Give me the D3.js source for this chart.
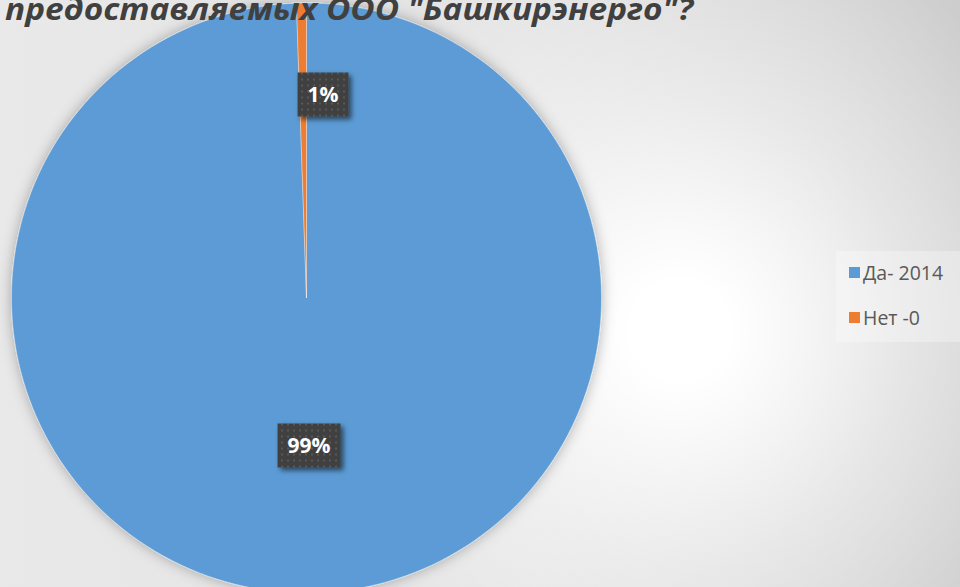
<!DOCTYPE html>
<html>
<head>
<meta charset="utf-8">
<script src="https://cdn.jsdelivr.net/npm/d3@7"></script>
<style>
  html, body { margin: 0; padding: 0; overflow: hidden; }
</style>
</head>
<body>
<div id="chart"></div>
<script>
const WIDTH = 960;
const HEIGHT = 587;

// data
const categories = ["Да- 2014", "Нет -0"];
const values = [2014, 11];
const colors = ["#5B9BD5", "#ED7D31"];
const titleText = "предоставляемых ООО \"Башкирэнерго\"?";

// layout
const cx = 306.5, cy = 298, radius = 295;
const labelRadius = [0.5, 0.69];
const labelShift = [0, 20];

let svg = d3.select("#chart")
    .append("svg")
    .attr("width", WIDTH)
    .attr("height", HEIGHT);

let defs = svg.append("defs");

let base = defs.append("linearGradient")
    .attr("id", "base")
    .attr("x1", "0").attr("y1", "0")
    .attr("x2", "1").attr("y2", "0");
base.append("stop").attr("offset", "0").attr("stop-color", "#e9e9e9");
base.append("stop").attr("offset", "0.55").attr("stop-color", "#e2e2e2");
base.append("stop").attr("offset", "1").attr("stop-color", "#cdcdcd");

let glow = defs.append("radialGradient")
    .attr("id", "glow")
    .attr("gradientUnits", "userSpaceOnUse")
    .attr("cx", 680).attr("cy", 330).attr("r", 420);
glow.append("stop").attr("offset", "0").attr("stop-color", "#fff").attr("stop-opacity", 1);
glow.append("stop").attr("offset", "0.12").attr("stop-color", "#fff").attr("stop-opacity", 1);
glow.append("stop").attr("offset", "0.55").attr("stop-color", "#fff").attr("stop-opacity", 0.45);
glow.append("stop").attr("offset", "1").attr("stop-color", "#fff").attr("stop-opacity", 0);

let pieShadow = defs.append("filter")
    .attr("id", "pieShadow")
    .attr("x", "-10%").attr("y", "-10%")
    .attr("width", "120%").attr("height", "120%");
pieShadow.append("feDropShadow")
    .attr("dx", 0).attr("dy", 0)
    .attr("stdDeviation", 7)
    .attr("flood-color", "#000")
    .attr("flood-opacity", 0.3);

let boxShadow = defs.append("filter")
    .attr("id", "boxShadow")
    .attr("x", "-20%").attr("y", "-20%")
    .attr("width", "150%").attr("height", "150%");
boxShadow.append("feDropShadow")
    .attr("dx", 3).attr("dy", 3)
    .attr("stdDeviation", 2.5)
    .attr("flood-color", "#000")
    .attr("flood-opacity", 0.55);

let dots = defs.append("pattern")
    .attr("id", "dots")
    .attr("patternUnits", "userSpaceOnUse")
    .attr("width", 6).attr("height", 6);
dots.append("rect").attr("width", 6).attr("height", 6).attr("fill", "#404040");
dots.append("rect").attr("x", 2).attr("y", 2).attr("width", 2).attr("height", 2).attr("fill", "#585858");

svg.append("rect")
    .attr("width", WIDTH).attr("height", HEIGHT)
    .attr("fill", "url(#base)");
svg.append("rect")
    .attr("width", WIDTH).attr("height", HEIGHT)
    .attr("fill", "url(#glow)");

let pie = d3.pie().sort(null).value(d => d)(values);
let arc = d3.arc().innerRadius(0).outerRadius(radius);
let total = d3.sum(values);

let g = svg.append("g")
    .attr("transform", "translate(" + cx + "," + cy + ")");

g.append("g")
    .attr("filter", "url(#pieShadow)")
    .selectAll("path")
    .data(pie)
    .enter()
    .append("path")
    .attr("d", arc)
    .attr("fill", (d, i) => colors[i])
    .attr("stroke", "#fff")
    .attr("stroke-opacity", 0.6)
    .attr("stroke-width", 0.6);

let labels = g.selectAll(".lbl")
    .data(pie)
    .enter()
    .append("g")
    .attr("class", "lbl")
    .attr("transform", (d, i) => {
        let c = d3.arc().innerRadius(0).outerRadius(2 * radius * labelRadius[i]).centroid(d);
        return "translate(" + (c[0] + labelShift[i]) + "," + c[1] + ")";
    });

labels.each(function(d, i) {
    let lg = d3.select(this);
    let txt = Math.round(d.value / total * 100) + "%";
    let t = lg.append("text")
        .attr("text-anchor", "middle")
        .attr("dy", "0.36em")
        .style("font-family", "'Open Sans', sans-serif")
        .style("font-weight", "bold")
        .style("font-size", "21px")
        .attr("fill", "#fff")
        .text(txt);
    let w = t.node().getComputedTextLength() + 20;
    lg.insert("rect", "text")
        .attr("x", -w / 2).attr("y", -22)
        .attr("width", w).attr("height", 44)
        .attr("fill", "url(#dots)")
        .attr("filter", "url(#boxShadow)");
});

svg.append("text")
    .attr("x", 5)
    .attr("y", 20)
    .attr("textLength", 688)
    .attr("lengthAdjust", "spacingAndGlyphs")
    .style("font-family", "'Open Sans', sans-serif")
    .style("font-weight", "bold")
    .style("font-style", "italic")
    .style("font-size", "30px")
    .attr("fill", "#404040")
    .text(titleText);

let legend = svg.append("g");
legend.append("rect")
    .attr("x", 836).attr("y", 251)
    .attr("width", 124).attr("height", 91)
    .attr("fill", "#fff")
    .attr("opacity", 0.3);

let items = legend.selectAll(".item")
    .data(categories)
    .enter()
    .append("g")
    .attr("class", "item")
    .attr("transform", (d, i) => "translate(849," + (267 + i * 45) + ")");
items.append("rect")
    .attr("width", 11).attr("height", 11)
    .attr("fill", (d, i) => colors[i]);
items.append("text")
    .attr("x", 14)
    .attr("y", 13)
    .style("font-family", "'Open Sans', sans-serif")
    .style("font-size", "19.5px")
    .attr("fill", "#595959")
    .text(d => d);
</script>
</body>
</html>
